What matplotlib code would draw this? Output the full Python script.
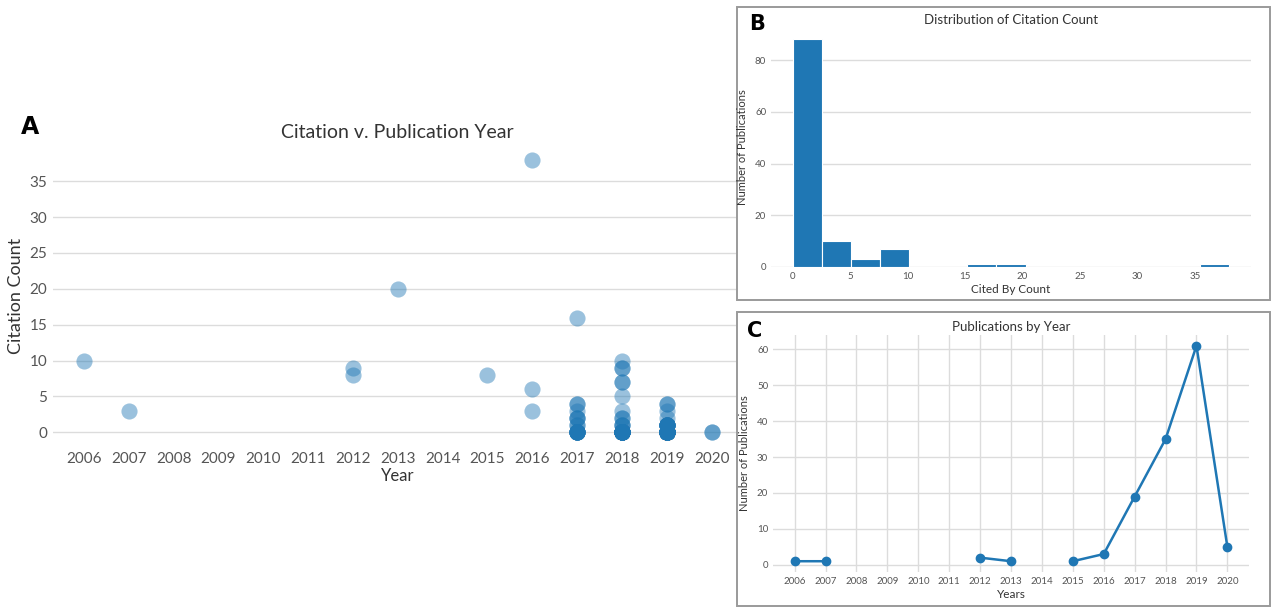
import matplotlib

matplotlib.use("Agg")
import matplotlib.pyplot as plt
import numpy as np
from matplotlib.patches import Rectangle

# Panel A: citation count of each publication, grouped by year
cite_years = [2006, 2007, 2012, 2013, 2015, 2016, 2017, 2018, 2019, 2020]
cite_values = [
    [10],
    [3],
    [9, 8],
    [20],
    [8],
    [38, 6, 3],
    [16, 4, 4, 3, 2, 2, 2, 1, 1] + [0] * 10,
    [10, 9, 9, 7, 7, 5, 3, 2, 2, 1, 1, 1] + [0] * 23,
    [4, 4, 3, 2] + [1] * 10 + [0] * 47,
    [0, 0],
]

# Panel B: histogram of citation counts (15 bins over 0..38)
hist_edges = np.linspace(0, 38, 16)
hist_counts = [88, 10, 3, 7, 0, 0, 1, 1, 0, 0, 0, 0, 0, 0, 1]

# Panel C: publications per year (NaN = no publications that year)
pub_years = list(range(2006, 2021))
pub_counts = [1, 1, np.nan, np.nan, np.nan, np.nan, 2, 1, np.nan, 1, 3, 19, 35, 61, 5]

BLUE = "#1f77b4"
GRID = "#dcdcdc"
TICK = "#555555"
TITLE = "#333333"
BOX = "#9a9a9a"

plt.rcParams["font.family"] = ["Lato", "DejaVu Sans"]

W, H = 1271, 608
fig = plt.figure(figsize=(W / 100, H / 100), dpi=100)
fig.patch.set_facecolor("white")


def px_axes(left, top, right, bottom):
    return fig.add_axes([left / W, 1 - bottom / H, (right - left) / W, (bottom - top) / H])


def clean(ax, grid_x=False):
    for s in ax.spines.values():
        s.set_visible(False)
    ax.yaxis.grid(True, color=GRID, linewidth=1.0)
    if grid_x:
        ax.xaxis.grid(True, color=GRID, linewidth=1.0)
    ax.set_axisbelow(True)
    ax.tick_params(length=0, colors=TICK)


# ---- Panel A
axA = px_axes(52.6, 146, 743, 446)
clean(axA)
for yr, vals in zip(cite_years, cite_values):
    axA.scatter([yr] * len(vals), vals, s=135, color=BLUE, alpha=0.45, linewidths=0)
axA.set_xlim(2005.3, 2020.7)
axA.set_ylim(-1.9, 39.9)
axA.set_xticks(pub_years)
axA.set_yticks(range(0, 36, 5))
axA.tick_params(labelsize=11, pad=4)
axA.set_title("Citation v. Publication Year", fontsize=14, color=TITLE, pad=6)
axA.set_xlabel("Year", fontsize=12, color=TITLE, labelpad=2)
axA.set_ylabel("Citation Count", fontsize=13, color=TITLE, labelpad=4)
fig.text(30 / W, 1 - 127 / H, "A", fontsize=17, fontweight="heavy",
         family="DejaVu Sans", ha="center", va="center")

# ---- boxes around B and C
for (x0, y0, x1, y1) in ((737, 7, 1270, 300), (737, 312, 1270, 606)):
    fig.patches.append(Rectangle((x0 / W, 1 - y1 / H), (x1 - x0) / W, (y1 - y0) / H,
                                 transform=fig.transFigure, facecolor="white",
                                 edgecolor=BOX, linewidth=1.4, zorder=5))

# ---- Panel B
axB = px_axes(771, 28, 1251, 267)
axB.set_zorder(10)
axB.patch.set_alpha(0)
clean(axB)
axB.bar(hist_edges[:-1], hist_counts, width=np.diff(hist_edges), align="edge",
        color=BLUE, edgecolor="white", linewidth=0.8)
axB.set_xlim(-1.9, 39.9)
axB.set_ylim(0, 92.4)
axB.set_yticks(range(0, 81, 20))
axB.set_xticks(range(0, 36, 5))
axB.tick_params(labelsize=7)
axB.set_title("Distribution of Citation Count", fontsize=9.5, color=TITLE, pad=3)
axB.set_xlabel("Cited By Count", fontsize=8.5, color=TITLE, labelpad=2)
axB.set_ylabel("Number of Publications", fontsize=8, color=TITLE, labelpad=5)
fig.text(757 / W, 1 - 24 / H, "B", fontsize=15, fontweight="heavy",
         family="DejaVu Sans", ha="center", va="center", zorder=11)

# ---- Panel C
axC = px_axes(773, 335, 1249, 572)
axC.set_zorder(10)
axC.patch.set_alpha(0)
clean(axC, grid_x=True)
axC.plot(pub_years, pub_counts, color=BLUE, linewidth=1.8, marker="o", markersize=6)
axC.set_xlim(2005.3, 2020.7)
axC.set_ylim(-2, 64)
axC.set_xticks(pub_years)
axC.set_yticks(range(0, 61, 10))
axC.tick_params(labelsize=7)
axC.set_title("Publications by Year", fontsize=9.5, color=TITLE, pad=3)
axC.set_xlabel("Years", fontsize=8.5, color=TITLE, labelpad=2)
axC.set_ylabel("Number of Publications", fontsize=8, color=TITLE, labelpad=5)
fig.text(755 / W, 1 - 331 / H, "C", fontsize=15, fontweight="heavy",
         family="DejaVu Sans", ha="center", va="center", zorder=11)

fig.savefig("out.png", dpi=100, facecolor="white")
